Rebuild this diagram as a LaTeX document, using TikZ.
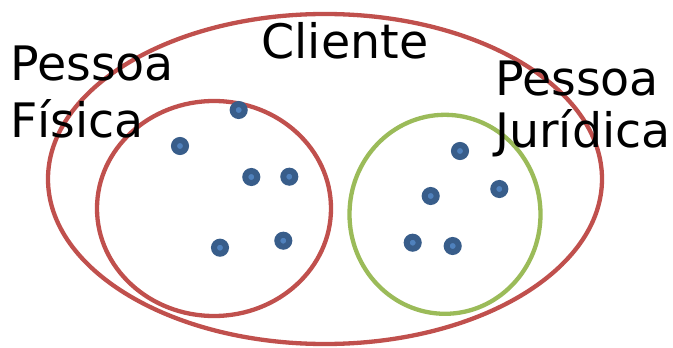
\documentclass[tikz,border=0pt]{standalone}
\usepackage{fontspec}
\setmainfont{DejaVu Sans}
\usetikzlibrary{shapes.geometric}
\definecolor{ConjRed}{RGB}{192,80,77}
\definecolor{ConjGreen}{RGB}{155,187,89}
\definecolor{DotDark}{RGB}{56,93,138}
\definecolor{DotLight}{RGB}{79,129,189}
\begin{document}
\begin{tikzpicture}[x=1pt,y=-1pt,
    every node/.style={font=\fontsize{47.5}{57}\selectfont,inner sep=0pt},
    conj/.style={ellipse,draw=ConjRed,line width=4.3pt},
    ponto/.style={circle,draw=DotDark,fill=DotLight,line width=6pt,
                  minimum size=12pt},
    rotulo/.style={align=left,anchor=base west}]
    \useasboundingbox (0,0) rectangle (673,348);
    % conjuntos
    \node[conj,minimum width=554pt,minimum height=330pt] (cliente) at (325,179) {};
    \node[conj,minimum width=234pt,minimum height=215pt] (fisica) at (214,208.5) {};
    \node[conj,draw=ConjGreen,minimum width=191pt,minimum height=199pt] (juridica) at (445,214.3) {};
    % rotulos
    \node[anchor=base] (tcliente) at (345,58) {Cliente};
    \node[rotulo] (tfisica) at (10,137) {Pessoa\\Física};
    \node[rotulo,font=\fontsize{47.5}{52}\selectfont] (tjuridica) at (495,147) {Pessoa\\Jurídica};
    % elementos
    \node[ponto] (f1) at (238.7,110) {};
    \node[ponto] (f2) at (180,146) {};
    \node[ponto] (f3) at (251.3,177) {};
    \node[ponto] (f4) at (289.3,176.7) {};
    \node[ponto] (f5) at (220,247.7) {};
    \node[ponto] (f6) at (283.3,240.7) {};
    \node[ponto] (j1) at (460,151) {};
    \node[ponto] (j2) at (430.7,196) {};
    \node[ponto] (j3) at (499.3,189) {};
    \node[ponto] (j4) at (412.7,242.7) {};
    \node[ponto] (j5) at (452.7,246) {};
\end{tikzpicture}
\end{document}
